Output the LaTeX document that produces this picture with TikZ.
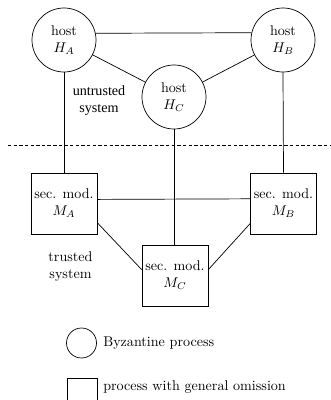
\documentclass[tikz,border=0pt]{standalone}
\usepackage{fontspec}
\newfontfamily\timesfont{Liberation Serif}
\def\pxu{0.709pt}
\tikzset{
  host/.style={circle, draw, line width=0.5pt, minimum size=64*\pxu, inner sep=0pt, align=center},
  secmod/.style={rectangle, draw, line width=0.5pt, minimum width=66*\pxu, minimum height=61*\pxu, inner sep=0pt, align=center},
  link/.style={draw, line width=0.5pt},
  sep/.style={line width=0.5pt, dash pattern=on 2.4pt off 1.6pt},
  label/.style={align=center, inner sep=0pt},
}
\begin{document}
\begin{tikzpicture}[x=0.709pt, y=-0.709pt]
\clip (0,0) rectangle (331,400);

% hosts (untrusted part)
\node[host] (HA) at (64,40) {host\\$H_A$};
\node[host] (HB) at (283,40) {host\\$H_B$};
\node[host] (HC) at (174,97) {host\\$H_C$};

% security modules (trusted part)
\node[secmod] (MA) at (64,203.5) {sec. mod.\\$M_A$};
\node[secmod] (MB) at (283.5,203.5) {sec. mod.\\$M_B$};
\node[secmod] (MC) at (175,275.5) {sec. mod.\\$M_C$};

% network between hosts
\draw[link] (HA.12.6) -- (HB.167.4);
\draw[link] (HA) -- (HC);
\draw[link] (HC) -- (HB);

% host to its module
\draw[link] (HA.south) -- (MA.north);
\draw[link] (HB.south) -- (MB.north);
\draw[link] (HC.south) -- (HC.south |- MC.north);

% network between modules
\draw[link] (MA.7.8) -- (MB.172.2);
\draw[link] (MA.-30.6) -- (MC.170);
\draw[link] (MB.-149.4) -- (MC.10);

% boundary between the two systems
\coordinate (sepL) at (8,145);
\coordinate (sepR) at (331,145);
\draw[sep] (sepL) -- (sepR);

\node[label, font=\timesfont] (untr) at (99,101) {untrusted\\system};
\node[label] (tr) at (70.5,267) {trusted\\system};

% legend
\node[circle, draw, line width=0.5pt, minimum size=30*\pxu, inner sep=0pt] (lc) at (81.5,343) {};
\node[anchor=west, inner sep=0pt] (lct) at (103,343) {Byzantine process};
\node[rectangle, draw, line width=0.5pt, minimum width=30*\pxu, minimum height=30*\pxu, inner sep=0pt] (ls) at (82,393) {};
\node[anchor=west, inner sep=0pt] (lst) at (103,387) {process with general omission};
\end{tikzpicture}
\end{document}
